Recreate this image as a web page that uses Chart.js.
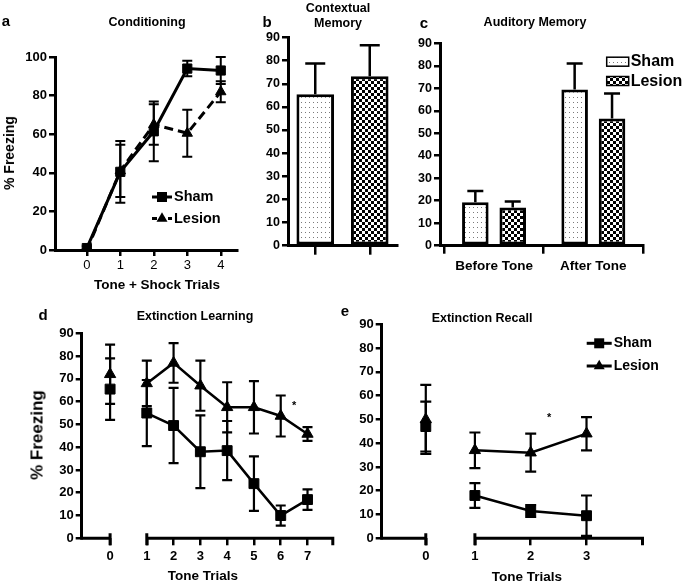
<!DOCTYPE html>
<html>
<head>
<meta charset="utf-8">
<script src="https://cdn.jsdelivr.net/npm/chart.js@4.4.0/dist/chart.umd.min.js"></script>
<style>
  body { margin: 0; width: 685px; height: 583px; background: #fff; position: relative; overflow: hidden;
         font-family: "Liberation Sans", Arial, Helvetica, sans-serif; font-weight: bold; color: #000; }
  canvas { position: absolute; }
  .t { position: absolute; white-space: nowrap; transform: translate(-50%, -50%); line-height: 1; }
  .rot { transform: translate(-50%, -50%) rotate(-90deg); }
  .letter { font-size: 15px; }
  .title { font-size: 12.5px; }
</style>
</head>
<body>
<canvas id="condChart" width="245" height="280" style="left:0;top:0"></canvas>
<canvas id="ctxChart" width="165" height="270" style="left:236px;top:0"></canvas>
<canvas id="audChart" width="285" height="285" style="left:400px;top:0"></canvas>
<canvas id="extChart" width="345" height="293" style="left:0;top:290px"></canvas>
<canvas id="recChart" width="340" height="293" style="left:345px;top:290px"></canvas>

<div class="t letter" style="left:6px;top:20px">a</div>
<div class="t title" style="left:147px;top:22px">Conditioning</div>
<div class="t rot" style="left:9px;top:153px;font-size:14px">% Freezing</div>
<div class="t" style="left:157px;top:285px;font-size:13.5px">Tone + Shock Trials</div>

<div class="t letter" style="left:267px;top:21px">b</div>
<div class="t title" style="left:338px;top:8px">Contextual</div>
<div class="t title" style="left:338px;top:23px">Memory</div>

<div class="t letter" style="left:424px;top:22px">c</div>
<div class="t title" style="left:535px;top:22px">Auditory Memory</div>

<div class="t letter" style="left:43px;top:314px">d</div>
<div class="t title" style="left:195px;top:316px">Extinction Learning</div>
<div class="t rot" style="left:37px;top:435px;font-size:17px">% Freezing</div>
<div class="t" style="left:203px;top:576px;font-size:13.5px">Tone Trials</div>

<div class="t letter" style="left:345px;top:310px">e</div>
<div class="t title" style="left:482px;top:318px">Extinction Recall</div>
<div class="t" style="left:527px;top:577px;font-size:13.5px">Tone Trials</div>

<script>
Chart.defaults.font.family = '"Liberation Sans", Arial, Helvetica, sans-serif';
Chart.defaults.color = '#000';
Chart.defaults.animation = false;

// a: conditioning
const condTrials = [0, 1, 2, 3, 4];
const condSham = [1, 40.5, 61.5, 94, 93];
const condShamErr = [1, 16, 15.5, 4, 7];
const condLesion = [0, 41, 65, 60.5, 82];
const condLesionErr = [0.5, 13.5, 10.5, 12.2, 5.5];

// b: contextual memory
const ctxGroups = ['Sham', 'Lesion'];
const ctxMean = [65.5, 73.3];
const ctxErr = [13.3, 13.4];

// c: auditory memory
const audCats = ['Before Tone', 'After Tone'];
const audSham = [19.3, 69.5];
const audShamErr = [5, 11.5];
const audLesion = [17, 56.6];
const audLesionErr = [2.6, 11.1];

// d: extinction learning (trial 0 = baseline, drawn before the axis break)
const extTrials = [1, 2, 3, 4, 5, 6, 7];
const extTickLabels = ['0', '1', '2', '3', '4', '5', '6', '7'];
const extBasePos = -0.37;
const extBaseSham = [65.5], extBaseShamErr = [13.5];
const extBaseLesion = [72], extBaseLesionErr = [13];
const extSham = [55, 49.5, 38, 38.5, 24, 10, 17];
const extShamErr = [14.5, 16.5, 16, 13, 12, 4.4, 4.5];
const extLesion = [68, 77, 67, 57.5, 57.5, 53.7, 45.8];
const extLesionErr = [10, 8.7, 11, 11, 11.5, 9, 3];

// e: extinction recall
const recTrials = [1, 2, 3];
const recTickLabels = ['0', '1', '2', '3'];
const recBasePos = 0.12;
const recBaseSham = [47], recBaseShamErr = [10.5];
const recBaseLesion = [50], recBaseLesionErr = [14.5];
const recSham = [18, 11.5, 9.5];
const recShamErr = [5.2, 2.5, 8.5];
const recLesion = [37, 36, 44];
const recLesionErr = [7.5, 8, 7];

const pts = (xs, ys) => xs.map((x, i) => ({ x, y: ys[i] }));

function dotPattern() {
  const c = document.createElement('canvas'); c.width = 4; c.height = 5;
  const g = c.getContext('2d');
  g.fillStyle = '#fff'; g.fillRect(0, 0, 4, 5);
  g.fillStyle = '#7a7a7a'; g.fillRect(1, 2, 1, 1);
  return g.createPattern(c, 'repeat');
}
function checkPattern() {
  const c = document.createElement('canvas'); c.width = 6; c.height = 6;
  const g = c.getContext('2d');
  g.fillStyle = '#fff'; g.fillRect(0, 0, 6, 6);
  g.fillStyle = '#000'; g.fillRect(0, 0, 3, 3); g.fillRect(3, 3, 3, 3);
  return g.createPattern(c, 'repeat');
}
const dots = dotPattern();
const checks = checkPattern();

const errorBars = {
  id: 'errorBars',
  afterDatasetsDraw(chart, args, opts) {
    const { ctx, scales: { y } } = chart;
    ctx.save();
    ctx.strokeStyle = '#000'; ctx.lineWidth = opts.width || 2; ctx.setLineDash([]);
    chart.data.datasets.forEach((ds, di) => {
      if (!ds.errors) return;
      chart.getDatasetMeta(di).data.forEach((el, i) => {
        const v = ds.data[i];
        const val = typeof v === 'object' ? v.y : v;
        const e = ds.errors[i];
        const top = y.getPixelForValue(val + e);
        const bot = y.getPixelForValue(opts.upOnly ? val : val - e);
        const hw = (opts.cap || 10) / 2;
        ctx.beginPath();
        ctx.moveTo(el.x, bot); ctx.lineTo(el.x, top);
        ctx.moveTo(el.x - hw, top); ctx.lineTo(el.x + hw, top);
        if (!opts.upOnly) { ctx.moveTo(el.x - hw, bot); ctx.lineTo(el.x + hw, bot); }
        ctx.stroke();
      });
    });
    ctx.restore();
  }
};

function marker(ctx, style, cx, cy, r) {
  ctx.beginPath();
  if (style === 'rect') {
    ctx.rect(cx - r, cy - r, 2 * r, 2 * r);
  } else {
    ctx.moveTo(cx, cy - r * 1.15);
    ctx.lineTo(cx + r, cy + r * 0.6);
    ctx.lineTo(cx - r, cy + r * 0.6);
    ctx.closePath();
  }
  ctx.fill();
}

// legend entries kept outside chart options so the option resolver leaves them alone
const legendA = [
  { text: 'Sham', x: 152, y: 197, mark: 'rect', r: 5 },
  { text: 'Lesion', x: 152, y: 218.5, mark: 'triangle', r: 5.5, dash: [5, 3] }
];
const legendC = [
  { text: 'Sham', x: 206.7, y: 61.7, ty: 62, swatch: dots },
  { text: 'Lesion', x: 206.7, y: 81, ty: 82, swatch: checks }
];
const legendE = [
  { text: 'Sham', x: 241.7, y: 53.3, mark: 'rect', r: 5 },
  { text: 'Lesion', x: 241.7, y: 76, mark: 'triangle', r: 5.5 }
];

function markLegend(items, lineLen, font) {
  return {
    id: 'markLegend',
    afterDraw(chart) {
      const ctx = chart.ctx;
      ctx.save();
      items.forEach((it) => {
        ctx.strokeStyle = '#000'; ctx.fillStyle = '#000';
        if (it.mark) {
          ctx.lineWidth = 3; ctx.setLineDash(it.dash || []);
          ctx.beginPath(); ctx.moveTo(it.x, it.y); ctx.lineTo(it.x + lineLen, it.y); ctx.stroke();
          ctx.setLineDash([]);
          marker(ctx, it.mark, it.x + lineLen / 2, it.y, it.r);
        }
        if (it.swatch) {
          ctx.fillStyle = it.swatch; ctx.fillRect(it.x, it.y - 4.5, lineLen, 9);
          ctx.lineWidth = 1.5; ctx.strokeRect(it.x, it.y - 4.5, lineLen, 9);
        }
        ctx.fillStyle = '#000'; ctx.font = font; ctx.textBaseline = 'middle';
        ctx.fillText(it.text, it.x + lineLen + 2, it.ty || it.y);
      });
      ctx.restore();
    }
  };
}

const brokenAxis = {
  id: 'brokenAxis',
  afterDraw(chart, args, opts) {
    if (opts.gapFrom === undefined) return;
    const { ctx, chartArea: a, scales: { x } } = chart;
    const g0 = x.getPixelForValue(opts.gapFrom), g1 = x.getPixelForValue(opts.gapTo);
    const y = a.bottom;
    ctx.save();
    ctx.strokeStyle = '#000'; ctx.lineWidth = 3;
    ctx.beginPath();
    ctx.moveTo(a.left - 1.5, y); ctx.lineTo(g0 + 1.5, y);
    ctx.moveTo(g1 - 1.5, y); ctx.lineTo(a.right, y);
    [g0, g1].forEach((px) => { ctx.moveTo(px, y - 5); ctx.lineTo(px, y + 7); });
    ctx.moveTo(a.right - 1.5, y); ctx.lineTo(a.right - 1.5, y + 7);
    ctx.stroke();
    ctx.restore();
  }
};

const starMark = {
  id: 'starMark',
  afterDraw(chart, args, opts) {
    if (opts.x === undefined) return;
    const { ctx, scales: { x, y } } = chart;
    ctx.save();
    ctx.font = 'bold 11px "Liberation Sans", Arial, sans-serif';
    ctx.textAlign = 'center'; ctx.textBaseline = 'middle';
    ctx.fillText('*', x.getPixelForValue(opts.x), y.getPixelForValue(opts.y));
    ctx.restore();
  }
};

const basePlugins = [errorBars, brokenAxis, starMark];
const legendFont = (px) => `bold ${px}px "Liberation Sans", Arial, sans-serif`;

function yAxis(max, step, width, size) {
  return {
    min: 0, max, afterFit: (s) => { s.width = width; },
    border: { display: true, width: 3, color: '#000' },
    grid: { drawOnChartArea: false, tickLength: 6, lineWidth: 2.5, color: '#000' },
    ticks: { stepSize: step, padding: 2, font: { size, weight: 'bold' } }
  };
}

function lineSet(data, errors, style, radius, extra) {
  return Object.assign({
    data, errors, borderColor: '#000', backgroundColor: '#000', borderWidth: 3,
    pointStyle: style, pointRadius: radius, pointBorderWidth: 1, tension: 0
  }, extra || {});
}

// a
new Chart(document.getElementById('condChart'), {
  type: 'line',
  data: {
    datasets: [
      lineSet(pts(condTrials, condLesion), condLesionErr, 'triangle', 6, { borderDash: [9, 5] }),
      lineSet(pts(condTrials, condSham), condShamErr, 'rect', 6.5)
    ]
  },
  plugins: [...basePlugins, markLegend(legendA, 20, legendFont(14.5))],
  options: {
    responsive: false,
    layout: { padding: { top: 57, right: 5, left: 0, bottom: 0 } },
    plugins: {
      legend: { display: false }, tooltip: { enabled: false },
      errorBars: { cap: 10, width: 2 }
    },
    scales: {
      x: {
        type: 'linear', min: -0.95, max: 4.5,
        afterFit: (s) => { s.height = 30; },
        afterBuildTicks: (s) => { s.ticks = condTrials.map((v) => ({ value: v })); },
        border: { display: true, width: 3, color: '#000' },
        grid: { drawOnChartArea: false, tickLength: 6, lineWidth: 2.5, color: '#000' },
        ticks: { padding: 2, font: { size: 13 } }
      },
      y: yAxis(100, 20, 55, 13)
    }
  }
});

// b
new Chart(document.getElementById('ctxChart'), {
  type: 'bar',
  data: {
    labels: ctxGroups,
    datasets: [{
      data: ctxMean, errors: ctxErr, backgroundColor: [dots, checks],
      borderColor: '#000', borderWidth: 3, borderSkipped: false,
      barPercentage: 0.69, categoryPercentage: 1
    }]
  },
  plugins: basePlugins,
  options: {
    responsive: false,
    layout: { padding: { top: 37.5, right: 4, left: 0, bottom: 0 } },
    plugins: { legend: { display: false }, tooltip: { enabled: false }, errorBars: { cap: 20, width: 2.5, upOnly: true } },
    scales: {
      x: {
        afterFit: (s) => { s.height = 24.3; },
        border: { display: true, width: 3, color: '#000' },
        grid: { offset: false, drawOnChartArea: false, tickLength: 9, lineWidth: 2.5, color: '#000' },
        ticks: { display: false }
      },
      y: yAxis(90, 10, 52, 12.5)
    }
  }
});

// c
new Chart(document.getElementById('audChart'), {
  type: 'bar',
  data: {
    datasets: [
      { data: pts([0, 1], audSham), errors: audShamErr, backgroundColor: dots, borderColor: '#000', borderWidth: 3,
        borderSkipped: false, barPercentage: 0.71, categoryPercentage: 0.753 },
      { data: pts([0, 1], audLesion), errors: audLesionErr, backgroundColor: checks, borderColor: '#000', borderWidth: 3,
        borderSkipped: false, barPercentage: 0.71, categoryPercentage: 0.753 }
    ]
  },
  plugins: [...basePlugins, markLegend(legendC, 22, legendFont(16))],
  options: {
    responsive: false,
    layout: { padding: { top: 43.3, right: 42, left: 0, bottom: 0 } },
    plugins: {
      legend: { display: false }, tooltip: { enabled: false },
      errorBars: { cap: 16, width: 2.5, upOnly: true }
    },
    scales: {
      x: {
        type: 'linear', min: -0.544, max: 1.5, offset: false,
        afterFit: (s) => { s.height = 39.3; },
        afterBuildTicks: (s) => { s.ticks = audCats.map((c, i) => ({ value: i })); },
        border: { display: true, width: 3, color: '#000' },
        grid: { drawOnChartArea: false, tickLength: 8, lineWidth: 2.5, color: '#000' },
        ticks: { padding: 4, font: { size: 13.5, weight: 'bold' }, callback: (v, i) => audCats[i] }
      },
      y: yAxis(90, 10, 40, 12.5)
    }
  }
});

function timeAxis(min, max, positions, labels, height) {
  return {
    type: 'linear', min, max,
    afterFit: (s) => { s.height = height; },
    afterBuildTicks: (s) => { s.ticks = positions.map((v) => ({ value: v })); },
    border: { display: false },
    grid: { drawOnChartArea: false, tickLength: 7, lineWidth: 2.5, color: '#000' },
    ticks: { padding: 3, font: { size: 13, weight: 'bold' }, callback: (v, i) => labels[i] }
  };
}

// d
new Chart(document.getElementById('extChart'), {
  type: 'line',
  data: {
    datasets: [
      lineSet(pts([extBasePos], extBaseLesion), extBaseLesionErr, 'triangle', 6.5, { showLine: false }),
      lineSet(pts([extBasePos], extBaseSham), extBaseShamErr, 'rect', 7, { showLine: false }),
      lineSet(pts(extTrials, extLesion), extLesionErr, 'triangle', 6.5, { borderWidth: 2.5 }),
      lineSet(pts(extTrials, extSham), extShamErr, 'rect', 7, { borderWidth: 2.5 })
    ]
  },
  plugins: basePlugins,
  options: {
    responsive: false,
    layout: { padding: { top: 43.3, right: 10.7, left: 0, bottom: 0 } },
    plugins: {
      legend: { display: false }, tooltip: { enabled: false },
      errorBars: { cap: 10, width: 2.2 },
      brokenAxis: { gapFrom: extBasePos, gapTo: 1 },
      starMark: { x: 6.5, y: 58 }
    },
    scales: {
      x: timeAxis(-1.43, 8, [extBasePos, ...extTrials], extTickLabels, 44.7),
      y: yAxis(90, 10, 81.7, 13)
    }
  }
});

// e
new Chart(document.getElementById('recChart'), {
  type: 'line',
  data: {
    datasets: [
      lineSet(pts([recBasePos], recBaseLesion), recBaseLesionErr, 'triangle', 6.5, { showLine: false }),
      lineSet(pts([recBasePos], recBaseSham), recBaseShamErr, 'rect', 7, { showLine: false }),
      lineSet(pts(recTrials, recLesion), recLesionErr, 'triangle', 6.5, { borderWidth: 2.5 }),
      lineSet(pts(recTrials, recSham), recShamErr, 'rect', 7, { borderWidth: 2.5 })
    ]
  },
  plugins: [...basePlugins, markLegend(legendE, 25, legendFont(14))],
  options: {
    responsive: false,
    layout: { padding: { top: 34.3, right: 41, left: 0, bottom: 0 } },
    plugins: {
      legend: { display: false }, tooltip: { enabled: false },
      errorBars: { cap: 11, width: 2.2 },
      brokenAxis: { gapFrom: recBasePos, gapTo: 1 },
      starMark: { x: 2.33, y: 50.5 }
    },
    scales: {
      x: timeAxis(-0.67, 4.03, [recBasePos, ...recTrials], recTickLabels, 44.7),
      y: yAxis(90, 10, 36.7, 13)
    }
  }
});
</script>
</body>
</html>
